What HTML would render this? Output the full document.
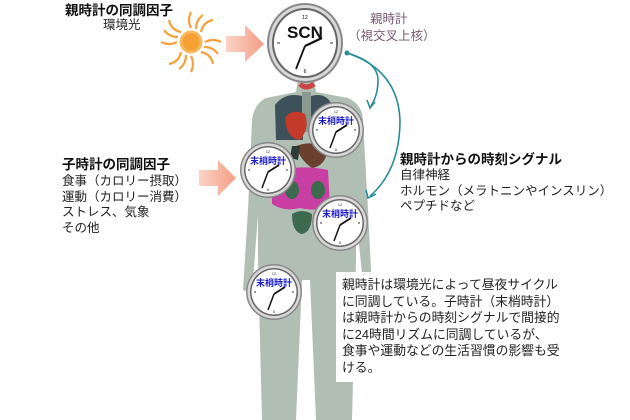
<!DOCTYPE html>
<html><head><meta charset="utf-8"><style>
html,body{margin:0;padding:0;background:#fff}
body{width:630px;height:420px;overflow:hidden;position:relative;font-family:"Liberation Sans","Noto Sans CJK JP",sans-serif}
.t{position:absolute;font-size:12.5px;color:#222;white-space:nowrap;line-height:15px}
.b{font-weight:bold;font-size:13.5px;color:#111}
</style></head><body>
<svg width="630" height="420" style="position:absolute;left:0;top:0" xmlns="http://www.w3.org/2000/svg">
<defs>
<linearGradient id="ar" x1="0" x2="1"><stop offset="0" stop-color="#fbd3c6"/><stop offset="1" stop-color="#f49e86"/></linearGradient>
<g id="clk">
<circle r="28" fill="#888"/><circle r="26.5" fill="#d8d8d8"/><circle r="24" fill="#666"/><circle r="22.5" fill="#fff"/>
<text x="0" y="-17" font-size="4" text-anchor="middle" fill="#333">12</text>
<text x="0" y="21" font-size="4" text-anchor="middle" fill="#333">6</text>
<line x1="-20" y1="0" x2="-18" y2="0" stroke="#333"/><line x1="18" y1="0" x2="20" y2="0" stroke="#333"/>
<line x1="0" y1="2" x2="11" y2="-5" stroke="#111" stroke-width="1.8"/>
<line x1="0" y1="2" x2="-6" y2="18" stroke="#111" stroke-width="1.5"/>
<text x="0" y="-6" font-size="9" font-weight="bold" text-anchor="middle" fill="#1a1acc" font-family="Liberation Sans,Noto Sans CJK JP,sans-serif">末梢時計</text>
</g>
</defs>
<g fill="#b1beb4">
<path d="M298 78 L314 78 L316 92 L348 98 Q362 104 363 120 L368 210 L372 290 L364 293 L356 215 L356 260 L352 420 L316 420 L310 280 L302 280 L296 420 L262 420 L258 260 L258 215 L252 293 L243 290 L248 210 L252 120 Q254 104 266 98 L296 92 Z"/>
</g>
<path d="M300 84 Q306 90 314 84" stroke="#c44" stroke-width="5" fill="none"/>
<path d="M275 105 Q285 92 302 96 L303 140 L276 140 Z" fill="#3e505a"/>
<path d="M311 96 Q326 92 332 105 L332 140 L310 140 Z" fill="#3e505a"/>
<rect x="302" y="92" width="9" height="40" fill="#8a9a90"/>
<path d="M285 118 Q292 108 305 114 Q310 128 300 140 Q286 138 285 118Z" fill="#c33a2a"/>
<path d="M296 146 Q312 140 328 148 Q326 166 312 168 Q300 160 296 146Z" fill="#6a4030"/>
<path d="M292 146 L300 146 L298 160 L290 158Z" fill="#2e3a36"/>
<path d="M272 172 Q300 164 328 170 L330 206 Q314 212 300 208 Q284 212 272 204 Z" fill="#c93ea3"/>
<ellipse cx="292" cy="190" rx="7" ry="9" fill="#3d6a4f"/><ellipse cx="318" cy="190" rx="7" ry="9" fill="#3d6a4f"/>
<path d="M292 214 Q302 208 312 214 Q312 232 302 234 Q292 232 292 214Z" fill="#3d6a4f"/>
<g transform="translate(191,42)" fill="none" stroke="#f5a23c" stroke-width="2.2">
<path d="M0 -14 Q-4 -22 0 -30"/><path d="M0 14 Q4 22 0 30"/><path d="M-14 0 Q-22 4 -30 0"/><path d="M14 0 Q22 -4 30 0"/>
<path d="M10 -10 Q12 -20 22 -22"/><path d="M-10 10 Q-12 20 -22 22"/><path d="M-10 -10 Q-20 -12 -22 -22"/><path d="M10 10 Q20 12 22 22"/>
<path d="M5 -13 Q5 -22 12 -27"/><path d="M-5 13 Q-5 22 -12 27"/><path d="M-13 -5 Q-22 -5 -27 -12"/><path d="M13 5 Q22 5 27 12"/>
<circle r="10" fill="#f6a033" stroke="#f7b85e" stroke-width="3"/>
</g>
<path d="M226 36 L245 36 L245 25 L264 44 L245 62 L245 52 L226 52Z" fill="url(#ar)"/>
<path d="M199 170 L218 170 L218 160 L236 178 L218 196 L218 186 L199 186Z" fill="url(#ar)"/>
<g stroke="#2a8c9a" stroke-width="1.6" fill="none">
<path d="M347 53 Q378 62 378 80 Q378 95 371 106"/>
<path d="M347 53 Q398 70 400 120 Q400 170 370 196"/>
</g>
<circle cx="347" cy="53" r="2.5" fill="#2a8c9a"/>
<path d="M367 100 L370 108 L375 102" stroke="#2a8c9a" stroke-width="1.6" fill="none"/>
<path d="M366 190 L368 198 L376 194" stroke="#2a8c9a" stroke-width="1.6" fill="none"/>
<g transform="translate(305,43)">
<ellipse rx="38" ry="40" fill="#888"/><ellipse rx="36" ry="38" fill="#d8d8d8"/><ellipse rx="33" ry="35" fill="#666"/><ellipse rx="31" ry="33" fill="#fff"/>
<text x="0" y="-24" font-size="5" text-anchor="middle">12</text><text x="0" y="30" font-size="5" text-anchor="middle">6</text>
<line x1="-28" y1="0" x2="-25" y2="0" stroke="#333"/><line x1="25" y1="0" x2="28" y2="0" stroke="#333"/>
<text x="0" y="-5" font-size="17" font-weight="bold" text-anchor="middle" font-family="Liberation Sans,sans-serif" fill="#111">SCN</text>
<line x1="0" y1="3" x2="17" y2="-5" stroke="#111" stroke-width="2.2"/>
<line x1="0" y1="3" x2="-9" y2="26" stroke="#111" stroke-width="1.8"/>
</g>
<use href="#clk" x="336" y="130"/>
<use href="#clk" x="268" y="170"/>
<use href="#clk" x="340" y="223"/>
<use href="#clk" x="274" y="292"/>
<rect x="336" y="272" width="268" height="110" fill="#fff"/>
</svg>
<div class="t b" style="left:65px;top:3px">親時計の同調因子</div>
<div class="t" style="left:103px;top:18px">環境光</div>
<div class="t" style="left:370px;top:12px;color:#7a5a72">親時計</div>
<div class="t" style="left:348px;top:29px;color:#7a5a72">（視交叉上核）</div>
<div class="t b" style="left:62px;top:157px">子時計の同調因子</div>
<div class="t" style="left:62px;top:174px;line-height:15.5px">食事（カロリー摂取）<br>運動（カロリー消費）<br>ストレス、気象<br>その他</div>
<div class="t b" style="left:400px;top:152px">親時計からの時刻シグナル</div>
<div class="t" style="left:400px;top:168px;line-height:15.5px">自律神経<br>ホルモン（メラトニンやインスリン）<br>ペプチドなど</div>
<div class="t" style="left:342px;top:277px;line-height:16.6px;font-size:12.8px">親時計は環境光によって昼夜サイクル<br>に同調している。子時計（末梢時計）<br>は親時計からの時刻シグナルで間接的<br>に24時間リズムに同調しているが、<br>食事や運動などの生活習慣の影響も受<br>ける。</div>
</body></html>
